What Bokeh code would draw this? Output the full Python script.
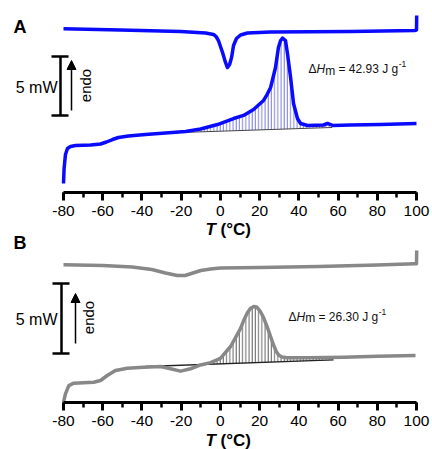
import math
from bokeh.plotting import figure
from bokeh.models import (Range1d, Label, Arrow, NormalHead, SingleIntervalTicker,
                          LinearAxis, CustomJSTickFormatter)
from bokeh.embed import file_html
from bokeh.resources import INLINE

# ---------------- data (temperature in °C, heat flow in mW, shifted) -------------
a_cool_T = [-80.0, -50.9, -20.3, -7.6, -3.5, -2.2, -1.0, 1.1, 2.6, 3.6, 4.7, 5.7, 6.7,
            8.2, 10.3, 13.8, 25.6, 66.4, 99.0, 100.0, 100.1]
a_cool_Q = [13.87, 13.77, 13.64, 13.52, 13.39, 13.22, 12.88, 11.86, 11.02, 10.59, 10.85,
            11.44, 12.46, 13.05, 13.35, 13.52, 13.60, 13.64, 13.73, 13.77, 15.00]

a_heat_T = [-80.0, -79.7, -79.0, -78.0, -76.4, -73.9, -66.2, -61.1, -58.1, -55.0, -52.0,
            -46.9, -38.2, -28.0, -17.8, -10.1, -1.5, 6.7, 11.8, 16.9, 22.0, 23.8, 25.6,
            28.1, 29.6, 30.7, 31.7, 33.2, 34.2, 35.8, 37.3, 39.3, 40.9, 44.4, 52.6, 54.6,
            57.2, 66.4, 81.6, 100.0]
a_heat_Q = [0.76, 2.03, 3.22, 3.73, 3.90, 3.98, 4.03, 4.11, 4.28, 4.49, 4.66,
            4.79, 4.92, 5.04, 5.17, 5.38, 5.76, 6.27, 6.53, 7.03, 7.80, 8.30, 8.90,
            10.59, 12.29, 12.88, 13.09, 12.88, 11.78, 9.75, 7.54, 6.27, 5.85, 5.68, 5.72, 5.85,
            5.68, 5.72, 5.76, 5.85]
a_base_T = [-28.0, 57.0]
a_base_Q = [5.04, 5.51]
a_dH = "42.93"

b_cool_T = [-80.0, -60.0, -45.0, -35.0, -28.0, -22.0, -18.0, -14.0, -10.0, -5.0, 0.0,
            20.0, 50.0, 80.0, 99.0, 100.0, 100.1]
b_cool_Q = [9.84, 9.79, 9.68, 9.50, 9.25, 9.07, 9.07, 9.25, 9.43, 9.54, 9.61,
            9.64, 9.71, 9.82, 9.91, 9.91, 10.86]

b_heat_T = [-80.0, -79.0, -77.3, -74.8, -64.6, -61.1, -57.7, -53.5, -47.5, -39.1, -30.5,
            -25.4, -20.3, -15.2, -10.1, -5.0, 0.0, 5.2, 8.0, 10.3, 12.0, 13.7, 15.3, 17.0,
            18.7, 20.4, 22.0, 23.9, 25.5, 27.2, 28.5, 29.8, 31.5, 34.0, 45.0, 63.0, 80.0, 99.5]
b_heat_Q = [0.02, 0.62, 1.21, 1.38, 1.45, 1.57, 1.93, 2.29, 2.45, 2.52, 2.57,
            2.41, 2.24, 2.41, 2.68, 2.85, 3.15, 4.00, 4.70, 5.30, 5.90, 6.40, 6.72, 6.86,
            6.80, 6.50, 6.07, 5.38, 4.75, 4.07, 3.64, 3.38, 3.25, 3.19, 3.20, 3.24, 3.30, 3.36]
b_base_T = [-38.2, 57.7]
b_base_Q = [2.57, 3.04]
b_hatch_from = -10.1
b_dH = "26.30"

x_tick_step = 20
x_min, x_max = -80, 100

# ---------------- layout (page pixels; the canvas sits at the page origin) ----------
W, H = 432, 449
TOP, LEFT = 0, 0
PX_LO, PX_HI = 63.0, 416.0              # page x of -80 and 100
PPD = (PX_HI - PX_LO) / (x_max - x_min)
XS = x_min - (PX_LO - LEFT) / PPD
XE = XS + W / PPD

def X(px):
    return XS + (px - LEFT) / PPD

A_ZERO, A_SCALE = 192.0, 11.8           # page y of axis A, px per mW
B_ZERO, B_SCALE = 402.0, 14.0           # page y of axis B, px per mW
BOT = TOP + H
BASELINE_FIX = 6                        # alphabetic labels render this much lower

FONT = "Liberation Sans"

p = figure(width=W, height=H, output_backend="svg", toolbar_location=None,
           x_range=Range1d(XS, XE), y_range=Range1d(BOT, TOP),
           min_border=0, min_border_left=0, min_border_right=0, min_border_top=0,
           min_border_bottom=0, x_axis_location=None, y_axis_location=None)
p.outline_line_color = None
p.grid.visible = False
p.background_fill_color = "white"
p.border_fill_color = "white"
p.extra_y_ranges = {
    "a": Range1d((A_ZERO - BOT) / A_SCALE, (A_ZERO - TOP) / A_SCALE),
    "b": Range1d((B_ZERO - BOT) / B_SCALE, (B_ZERO - TOP) / B_SCALE),
}

fmt = CustomJSTickFormatter(code="return tick.toFixed(0);")
for loc in (A_ZERO, B_ZERO):
    ax = LinearAxis(fixed_location=loc, formatter=fmt,
                    ticker=SingleIntervalTicker(interval=x_tick_step, num_minor_ticks=2))
    ax.bounds = (x_min, x_max)
    ax.axis_line_width = 3
    ax.axis_line_color = "black"
    ax.major_tick_line_width = 3
    ax.minor_tick_line_width = 2.5
    ax.major_tick_out = 8
    ax.major_tick_in = 0
    ax.minor_tick_out = 5
    ax.minor_tick_in = 0
    ax.major_label_text_font = FONT
    ax.major_label_text_font_size = "15.5px"
    ax.major_label_text_color = "black"
    ax.major_label_standoff = 5
    p.add_layout(ax, "below")


def txt(x, y, text, size, style="normal", align="left", base="alphabetic", angle=0,
        xo=0, yo=0, color="black"):
    if base == "alphabetic":
        y = y - BASELINE_FIX
    p.add_layout(Label(x=x, y=y, x_offset=xo, y_offset=yo, text=text, angle=angle,
                       text_align=align, text_baseline=base, text_font=FONT,
                       text_font_size="%spx" % size, text_font_style=style,
                       text_color=color))


def annotate(bar_x, bar_top, bar_bot, arrow_x, arr_top, arr_bot, endo_x, endo_y, mw_y,
             letter, letter_y, tlab_y, dh_x, dh_y, dh_val):
    p.segment(x0=[X(bar_x)], y0=[bar_top], x1=[X(bar_x)], y1=[bar_bot],
              line_color="black", line_width=2.5)
    p.segment(x0=[X(bar_x - 9), X(bar_x - 9)], y0=[bar_top, bar_bot],
              x1=[X(bar_x + 8), X(bar_x + 8)], y1=[bar_top, bar_bot],
              line_color="black", line_width=2.5)
    p.add_layout(Arrow(end=NormalHead(size=9, fill_color="black", line_color="black"),
                       x_start=X(arrow_x), y_start=arr_bot, x_end=X(arrow_x),
                       y_end=arr_top, line_width=1.5, line_color="black"))
    txt(X(endo_x), endo_y, "endo", 15, align="center", base="middle", angle=math.pi / 2)
    txt(X(57), mw_y, "5 mW", 16, align="right", base="middle")
    txt(X(13), letter_y, letter, 18, style="bold")
    txt(X(205), tlab_y, "T", 17, style="bold italic")
    txt(X(205), tlab_y, "(°C)", 17, style="bold", xo=15.1)
    fs = 12
    em = lambda w: w * fs
    txt(X(dh_x), dh_y, "Δ", fs, color="#111111")
    txt(X(dh_x), dh_y, "H", fs, style="italic", xo=em(0.668), color="#111111")
    txt(X(dh_x), dh_y, "m", fs, xo=em(0.668 + 0.722), yo=-1.5, color="#111111")
    txt(X(dh_x), dh_y, "= %s J g" % dh_val, fs, xo=em(0.668 + 0.722 + 0.833 + 0.278),
        color="#111111")
    txt(X(dh_x), dh_y, "-1", 8.5, xo=em(0.668 + 0.722 + 0.833 + 0.278 + 4.976) + 0.5,
        yo=5, color="#111111")


# ---------------- panel A ----------------
sel = [i for i, t in enumerate(a_heat_T) if a_base_T[0] < t < a_base_T[1]]
hx = [a_base_T[0]] + [a_heat_T[i] for i in sel] + [a_base_T[1]]
hy = [a_base_Q[0]] + [a_heat_Q[i] for i in sel] + [a_base_Q[1]]
p.patch(hx, hy, y_range_name="a", fill_color=None, line_color=None,
        hatch_pattern="vertical_line", hatch_color="#7070e0", hatch_weight=0.9,
        hatch_scale=3.2)
p.line(a_base_T, a_base_Q, y_range_name="a", line_color="#444444", line_width=1)
p.line(a_cool_T, a_cool_Q, y_range_name="a", line_color="#0a0aff", line_width=3.5,
       line_join="round")
p.line(a_heat_T, a_heat_Q, y_range_name="a", line_color="#0a0aff", line_width=3.5,
       line_join="round")
annotate(bar_x=60, bar_top=56, bar_bot=115, arrow_x=71, arr_top=60, arr_bot=110,
         endo_x=85, endo_y=85, mw_y=87, letter="A", letter_y=32, tlab_y=235,
         dh_x=308, dh_y=74.5, dh_val=a_dH)

# ---------------- panel B ----------------
sel = [i for i, t in enumerate(b_heat_T) if b_hatch_from <= t < b_base_T[1]]
hx = [b_heat_T[i] for i in sel] + [b_base_T[1]]
hy = [b_heat_Q[i] for i in sel] + [b_base_Q[1]]
p.patch(hx, hy, y_range_name="b", fill_color=None, line_color=None,
        hatch_pattern="vertical_line", hatch_color="#555555", hatch_weight=0.9,
        hatch_scale=3.2)
p.line(b_base_T, b_base_Q, y_range_name="b", line_color="#222222", line_width=1.3)
p.line(b_cool_T, b_cool_Q, y_range_name="b", line_color="#888888", line_width=3.5,
       line_join="round")
p.line(b_heat_T, b_heat_Q, y_range_name="b", line_color="#888888", line_width=3.5,
       line_join="round")
annotate(bar_x=61, bar_top=283, bar_bot=353, arrow_x=75, arr_top=293, arr_bot=343,
         endo_x=88, endo_y=317, mw_y=319, letter="B", letter_y=248.5, tlab_y=446,
         dh_x=288, dh_y=322, dh_val=b_dH)

open("out.html", "w").write(file_html(p, INLINE))
